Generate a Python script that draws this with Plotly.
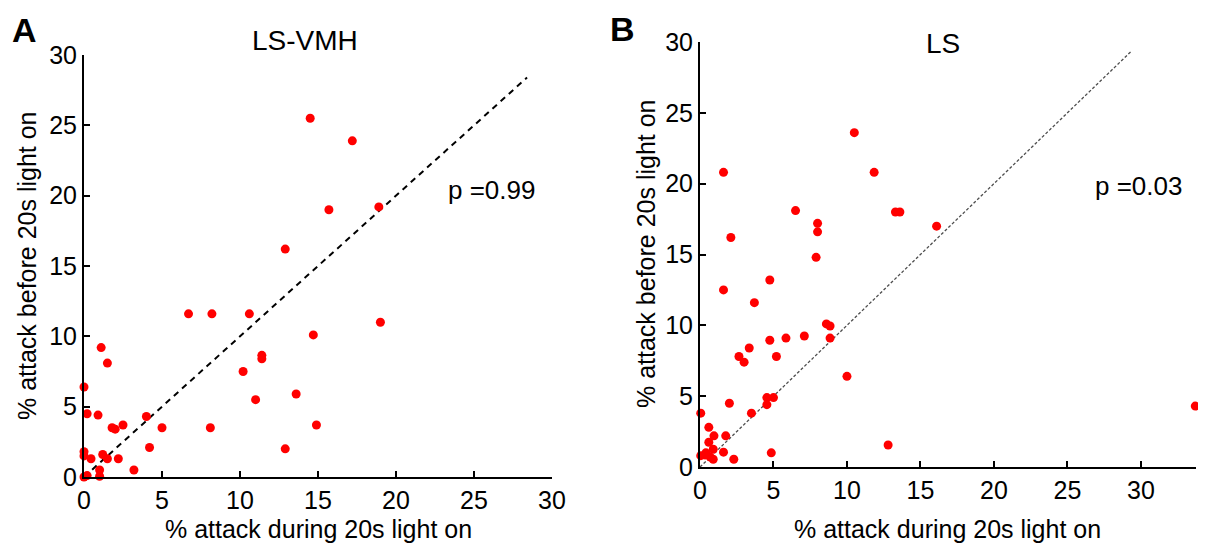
import plotly.graph_objects as go

# Panel A: LS-VMH
a_during = [0, 0.2, 0, 0.2, 0.9, 1.1, 1.5, 0, 0, 0.45, 1.2, 1.5, 2.2, 1.0, 1.0, 3.2,
            1.8, 2.0, 2.5, 4.0, 5.0, 4.2, 6.7, 8.2, 10.6, 8.1, 10.2, 11.4, 11.4, 11.0,
            12.9, 12.9, 13.6, 14.9, 14.7, 19.0, 15.7, 18.9, 14.5, 17.2]
a_before = [0, 0.1, 6.4, 4.5, 4.4, 9.2, 8.1, 1.8, 1.5, 1.3, 1.6, 1.3, 1.3, 0.5, 0.05, 0.5,
            3.5, 3.4, 3.7, 4.3, 3.5, 2.1, 11.6, 11.6, 11.6, 3.5, 7.5, 8.65, 8.4, 5.5,
            16.2, 2.0, 5.9, 3.7, 10.1, 11.0, 19.0, 19.2, 25.5, 23.9]

# Panel B: LS
b_during = [10.5, 1.6, 11.85, 6.5, 13.3, 13.6, 8.0, 8.0, 16.1, 2.1, 7.9, 1.6, 4.75, 3.7,
            8.6, 8.85, 8.85, 7.1, 5.85, 4.75, 3.35, 2.65, 5.2, 3.0, 10.0, 2.0, 4.55, 5.0,
            4.55, 3.5, 0.05, 0.6, 0.95, 1.75, 0.6, 1.6, 4.85, 12.8, 2.3, 0.05, 0.4, 0.9,
            0.9, 0.7, 0.35, 33.7]
b_before = [23.6, 20.8, 20.8, 18.1, 18.0, 18.0, 17.2, 16.6, 17.0, 16.2, 14.8, 12.5, 13.2, 11.6,
            10.1, 9.95, 9.1, 9.25, 9.1, 8.95, 8.4, 7.8, 7.8, 7.4, 6.4, 4.5, 4.9, 4.9,
            4.4, 3.8, 3.8, 2.8, 2.2, 2.2, 1.75, 1.05, 1.0, 1.55, 0.55, 0.8, 1.0, 1.25,
            0.55, 0.7, 0.85, 4.3]

diag_a = [0, 28.4]
diag_b = [0, 29.3]
tick_vals = [0, 5, 10, 15, 20, 25, 30]
titles = ["LS-VMH", "LS"]
p_texts = ["p =0.99", "p =0.03"]
panel_letters = ["A", "B"]
x_label = "% attack during 20s light on"
y_label = "% attack before 20s light on"

W, H = 1206, 550
OFF = 8  # page body margin offset
FONT = "Liberation Sans, Arial, sans-serif"

def px(x):
    return (x - OFF) / W

def py(y):
    return 1 - (y - OFF) / H

fig = go.Figure()

fig.add_trace(go.Scatter(x=diag_a, y=diag_a, mode="lines",
                         line=dict(color="black", width=2, dash="6px,5px"),
                         xaxis="x", yaxis="y", showlegend=False, hoverinfo="skip"))
fig.add_trace(go.Scatter(x=a_during, y=a_before, mode="markers",
                         marker=dict(color="#ff0000", size=9, line=dict(width=0)),
                         xaxis="x", yaxis="y", showlegend=False, cliponaxis=False))

fig.add_trace(go.Scatter(x=diag_b, y=diag_b, mode="lines",
                         line=dict(color="#4d4d4d", width=1.3, dash="3px,2px"),
                         xaxis="x2", yaxis="y2", showlegend=False, hoverinfo="skip"))
fig.add_trace(go.Scatter(x=b_during, y=b_before, mode="markers",
                         marker=dict(color="#ff0000", size=9, line=dict(width=0)),
                         xaxis="x2", yaxis="y2", showlegend=False, cliponaxis=False))

axis_common = dict(showline=True, linecolor="black", linewidth=2, showgrid=False,
                   zeroline=False, ticks="inside", ticklen=6, tickwidth=1.5,
                   tickcolor="black", tickvals=tick_vals, automargin=False,
                   tickfont=dict(family=FONT, size=25, color="black"))

fig.update_layout(
    width=W, height=H,
    margin=dict(l=0, r=0, t=0, b=0, pad=0, autoexpand=False),
    paper_bgcolor="white", plot_bgcolor="white",
    xaxis=dict(domain=[px(84), px(552)], range=[0, 30], anchor="y", **axis_common),
    yaxis=dict(domain=[py(477), py(55)], range=[0, 30], anchor="x", **axis_common),
    xaxis2=dict(domain=[px(700), px(1196)], range=[0, 33.75], anchor="y2", **axis_common),
    yaxis2=dict(domain=[py(467), py(42)], range=[0, 30], anchor="x2", **axis_common),
)

ann = []
# titles
ann.append(dict(x=px(305), y=py(40), text=titles[0], font=dict(size=28)))
ann.append(dict(x=px(943), y=py(44), text=titles[1], font=dict(size=28)))
# p values
ann.append(dict(x=px(447), y=py(190), text=p_texts[0], xanchor="left", font=dict(size=26)))
ann.append(dict(x=px(1094), y=py(186), text=p_texts[1], xanchor="left", font=dict(size=26)))
# panel letters
ann.append(dict(x=px(24), y=py(30), text="<b>" + panel_letters[0] + "</b>", font=dict(size=34)))
ann.append(dict(x=px(622), y=py(29), text="<b>" + panel_letters[1] + "</b>", font=dict(size=34)))
# x labels
ann.append(dict(x=px(318), y=py(529), text=x_label, font=dict(size=25)))
ann.append(dict(x=px(947), y=py(529), text=x_label, font=dict(size=25)))
# y labels
ann.append(dict(x=px(27), y=py(266), text=y_label, textangle=-90, font=dict(size=25)))
ann.append(dict(x=px(646), y=py(254), text=y_label, textangle=-90, font=dict(size=25)))

for a in ann:
    a.setdefault("xanchor", "center")
    a["yanchor"] = "middle"
    a["xref"] = "paper"
    a["yref"] = "paper"
    a["showarrow"] = False
    a["borderpad"] = 0
    a["font"] = dict(family=FONT, color="black", **a["font"])
fig.update_layout(annotations=ann)

fig.write_html("out.html")
